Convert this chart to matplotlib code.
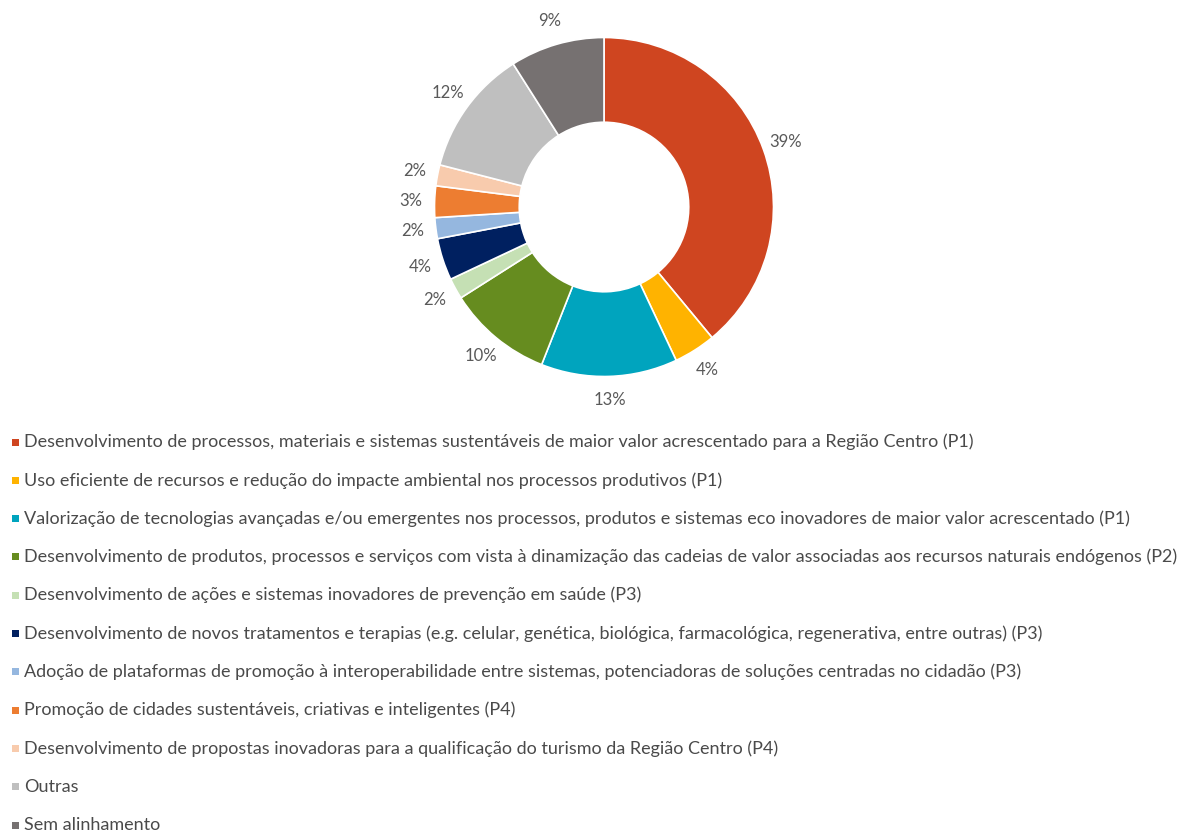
import numpy as np
import matplotlib
matplotlib.use("Agg")
import matplotlib.pyplot as plt
from matplotlib.patches import Rectangle

# Share of projects per thematic priority
categories = [
    "Desenvolvimento de processos, materiais e sistemas sustentáveis de maior valor acrescentado para a Região Centro (P1)",
    "Uso eficiente de recursos e redução do impacte ambiental nos processos produtivos (P1)",
    "Valorização de tecnologias avançadas e/ou emergentes nos processos, produtos e sistemas eco inovadores de maior valor acrescentado (P1)",
    "Desenvolvimento de produtos, processos e serviços com vista à dinamização das cadeias de valor associadas aos recursos naturais endógenos (P2)",
    "Desenvolvimento de ações e sistemas inovadores de prevenção em saúde (P3)",
    "Desenvolvimento de novos tratamentos e terapias (e.g. celular, genética, biológica, farmacológica, regenerativa, entre outras) (P3)",
    "Adoção de plataformas de promoção à interoperabilidade entre sistemas, potenciadoras de soluções centradas no cidadão (P3)",
    "Promoção de cidades sustentáveis, criativas e inteligentes (P4)",
    "Desenvolvimento de propostas inovadoras para a qualificação do turismo da Região Centro (P4)",
    "Outras",
    "Sem alinhamento",
]
shares = [39, 4, 13, 10, 2, 4, 2, 3, 2, 12, 9]
colors = ["#CF4520", "#FFB300", "#00A4BE", "#668C1F", "#C5E0B4", "#002060",
          "#95B7DF", "#ED7D31", "#F8CBAD", "#BFBFBF", "#767171"]

W, H = 1193, 832
fig = plt.figure(figsize=(W / 100, H / 100), dpi=100)

FONT = ["Lato", "DejaVu Sans"]
label_color = "#595959"
text_color = "#4a4a4a"

# Donut axes: centre at (604, 207) px, outer radius 169.5 px
cx, cy, R = 604, 207, 169.5
lim = 1.5
side = 2 * lim * R
ax = fig.add_axes([(cx - side / 2) / W, (H - cy - side / 2) / H, side / W, side / H])

wedges, _ = ax.pie(shares, colors=colors, startangle=90, counterclock=False,
                   radius=1.0,
                   wedgeprops=dict(width=0.5, edgecolor="white", linewidth=1.2))
ax.set_xlim(-lim, lim)
ax.set_ylim(-lim, lim)
ax.set_aspect("equal")
ax.axis("off")

# Percentage labels just outside each slice
total = sum(shares)
cum = 0
for v in shares:
    mid = (cum + v / 2) / total * 360.0
    cum += v
    a = np.deg2rad(90 - mid)
    r = 1.14
    ax.text(r * np.cos(a), r * np.sin(a), f"{v}%", ha="center", va="center",
            fontsize=12, color=label_color, family=FONT, clip_on=False)

# Legend rows
x_box, x_txt = 12, 24
y0, step = 442, 38.3
box = 7
for i, (lab, col) in enumerate(zip(categories, colors)):
    yc = y0 + i * step
    fig.patches.append(Rectangle((x_box / W, (H - yc - box / 2) / H), box / W, box / H,
                                 transform=fig.transFigure, facecolor=col,
                                 edgecolor="none"))
    fig.text(x_txt / W, (H - yc) / H, lab, ha="left", va="center",
             fontsize=13, color=text_color, family=FONT)

fig.savefig("out.png", dpi=100, facecolor="white")
